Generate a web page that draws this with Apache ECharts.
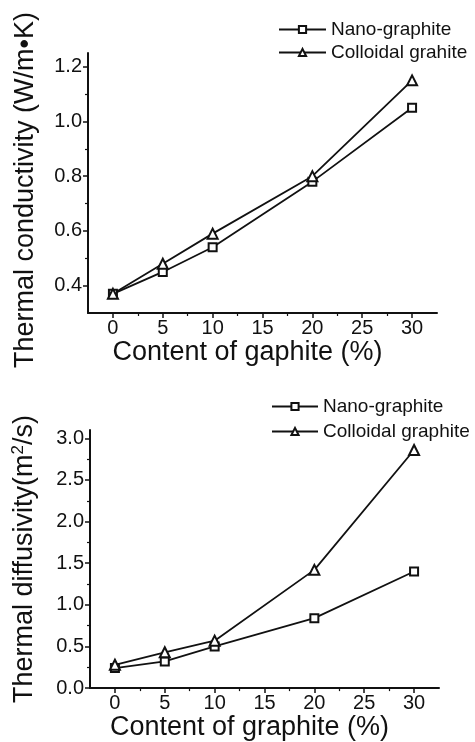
<!DOCTYPE html>
<html>
<head>
<meta charset="utf-8">
<script src="https://cdn.jsdelivr.net/npm/echarts@6/dist/echarts.min.js"></script>
<style>
  html, body { margin: 0; padding: 0; background: #fff; }
  #chart { width: 475px; height: 742px; }
</style>
</head>
<body>
<div id="chart"></div>
<script>
// graphite content (%)
const contentX = [0, 5, 10, 20, 30];

// top panel: thermal conductivity (W/m.K)
const condNano = [0.37, 0.45, 0.54, 0.78, 1.05];
const condColloidal = [0.37, 0.48, 0.59, 0.80, 1.15];

// bottom panel: thermal diffusivity (m2/s)
const diffNano = [0.24, 0.32, 0.50, 0.84, 1.40];
const diffColloidal = [0.28, 0.43, 0.57, 1.42, 2.86];

// ticks
const xMajor = [0, 5, 10, 15, 20, 25, 30];
const xMinor = [2.5, 7.5, 12.5, 17.5, 22.5, 27.5];
const condMajor = [0.4, 0.6, 0.8, 1.0, 1.2];
const condMinor = [0.5, 0.7, 0.9, 1.1];
const diffMajor = [0, 0.5, 1.0, 1.5, 2.0, 2.5, 3.0];
const diffMinor = [0.25, 0.75, 1.25, 1.75, 2.25, 2.75];

const FONT = 'Liberation Sans, Arial, sans-serif';
const INK = '#111';

function pairs(xs, ys) {
  return xs.map((x, i) => [x, ys[i]]);
}

// main axis (line, big ticks, labels)
function mainX(grid, name) {
  return {
    type: 'value', gridIndex: grid, min: -2.5, max: 32.5, position: 'bottom',
    name: name, nameLocation: 'middle', nameGap: 23,
    nameTextStyle: { fontFamily: FONT, fontSize: 27, color: INK, padding: [0, 30, 0, 0] },
    axisLine: { show: true, onZero: false, lineStyle: { color: INK, width: 2 } },
    axisTick: { show: true, length: 5, customValues: xMajor, lineStyle: { color: INK, width: 1.5 } },
    axisLabel: { show: true, customValues: xMajor, margin: 5, fontFamily: FONT, fontSize: 20, color: INK },
    splitLine: { show: false }
  };
}
// overlay axis only for the short in-between ticks
function minorX(grid) {
  return {
    type: 'value', gridIndex: grid, min: -2.5, max: 32.5, position: 'bottom',
    axisLine: { show: false, onZero: false },
    axisTick: { show: true, length: 3, customValues: xMinor, lineStyle: { color: INK, width: 1.2 } },
    axisLabel: { show: false },
    splitLine: { show: false }
  };
}
function mainY(grid, name, min, max, ticks, gap, pad) {
  return {
    type: 'value', gridIndex: grid, min: min, max: max, position: 'left',
    name: name, nameLocation: 'middle', nameGap: gap,
    nameTextStyle: {
      fontFamily: FONT, fontSize: 27, color: INK, padding: pad,
      rich: { sup: { fontFamily: FONT, fontSize: 17, color: INK, verticalAlign: 'top', padding: [0, 0, 12, 0] } }
    },
    axisLine: { show: true, onZero: false, lineStyle: { color: INK, width: 2 } },
    axisTick: { show: true, length: 5, customValues: ticks, lineStyle: { color: INK, width: 1.5 } },
    axisLabel: {
      show: true, customValues: ticks, margin: 6, fontFamily: FONT, fontSize: 20, color: INK,
      formatter: v => v.toFixed(1)
    },
    splitLine: { show: false }
  };
}
function minorY(grid, min, max, ticks) {
  return {
    type: 'value', gridIndex: grid, min: min, max: max, position: 'left',
    axisLine: { show: false, onZero: false },
    axisTick: { show: true, length: 3, customValues: ticks, lineStyle: { color: INK, width: 1.2 } },
    axisLabel: { show: false },
    splitLine: { show: false }
  };
}

function lineSeries(name, x, y, sym, size, grid) {
  return {
    name: name, type: 'line', xAxisIndex: grid * 2, yAxisIndex: grid * 2,
    data: pairs(x, y),
    symbol: sym, symbolSize: size,
    lineStyle: { color: INK, width: 1.8 },
    itemStyle: { color: INK, borderColor: INK, borderWidth: 1.3 }
  };
}

function legendBox(names, left, top, w, gap) {
  return {
    data: names, orient: 'vertical', left: left, top: top, padding: 0,
    itemWidth: w, itemHeight: 9, itemGap: gap,
    textStyle: { fontFamily: FONT, fontSize: 19, color: INK, lineHeight: 19 },
    selectedMode: false
  };
}

const chart = echarts.init(document.getElementById('chart'), null, { renderer: 'canvas' });
chart.setOption({
  animation: false,
  backgroundColor: '#fff',
  legend: [
    legendBox(['Nano-graphite', 'Colloidal grahite'], 278, 20, 47, 4),
    legendBox(['Nano-graphite ', 'Colloidal graphite'], 271, 397, 46, 6)
  ],
  grid: [
    { left: 88, top: 53, width: 349, height: 260 },
    { left: 90, top: 430, width: 349, height: 260 }
  ],
  xAxis: [
    mainX(0, 'Content of gaphite (%)'), minorX(0),
    mainX(1, 'Content of graphite (%)'), minorX(1)
  ],
  yAxis: [
    mainY(0, 'Thermal conductivity (W/m\u2022K)', 0.3, 1.25, condMajor, 49, [0, 14, 0, 0]),
    minorY(0, 0.3, 1.25, condMinor),
    mainY(1, 'Thermal diffusivity(m{sup|2}/s)', 0, 3.1, diffMajor, 51, [0, 0, 0, 0]),
    minorY(1, 0, 3.1, diffMinor)
  ],
  series: [
    lineSeries('Nano-graphite', contentX, condNano, 'emptyRect', 8, 0),
    lineSeries('Colloidal grahite', contentX, condColloidal, 'emptyTriangle', 10, 0),
    lineSeries('Nano-graphite ', contentX, diffNano, 'emptyRect', 8, 1),
    lineSeries('Colloidal graphite', contentX, diffColloidal, 'emptyTriangle', 10, 1)
  ]
});
</script>
</body>
</html>
